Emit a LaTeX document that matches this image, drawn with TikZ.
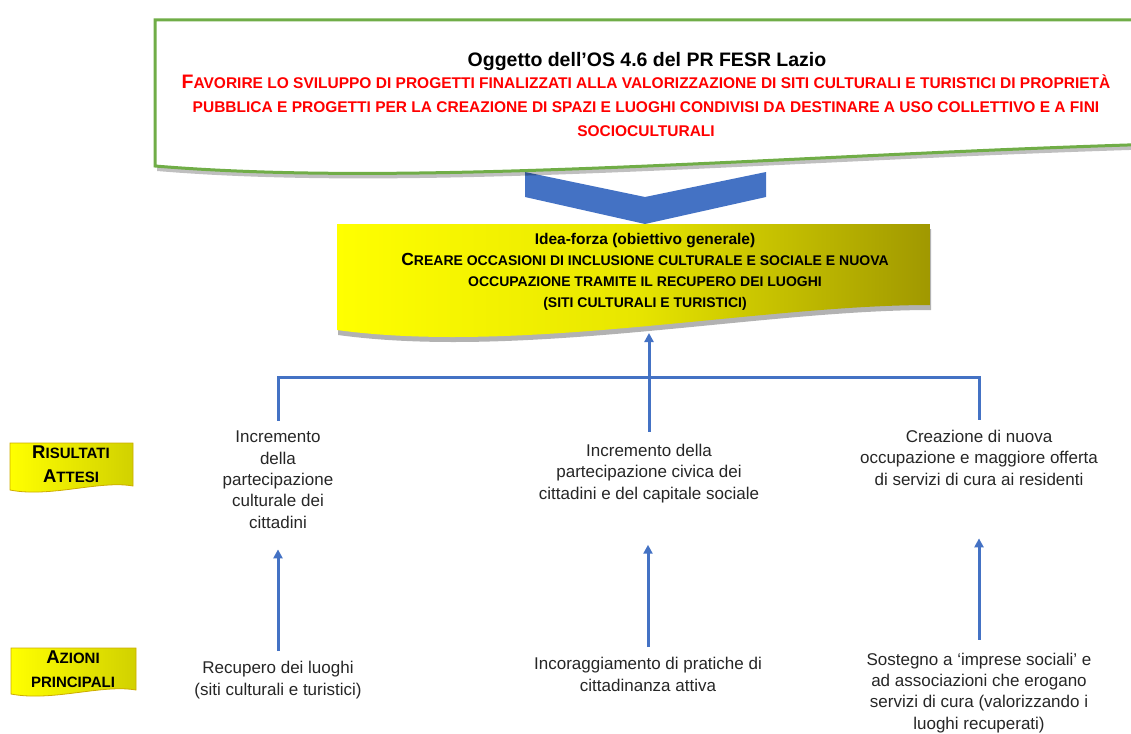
\documentclass[tikz,border=0pt]{standalone}
\usepackage{fontspec}
\setmainfont{Liberation Sans}
\usepackage{tikz}
\usetikzlibrary{arrows.meta}

\definecolor{osgreen}{RGB}{112,173,71}
\definecolor{flowblue}{RGB}{68,114,196}
\definecolor{olivedark}{RGB}{160,152,0}
\definecolor{olivemid}{RGB}{232,230,0}
\definecolor{tagedge}{RGB}{205,172,0}

% first letter of a small-caps run
\newcommand{\capinit}[2][19.5]{{\fontsize{#1}{24}\selectfont #2}}

\begin{document}
\begin{tikzpicture}[x=1pt, y=-1pt,
  body/.style={align=center, inner sep=0pt, anchor=base, text=black!85, font=\fontsize{17}{21.3}\selectfont},
  tag/.style={align=center, inner sep=0pt, anchor=base, font=\bfseries\fontsize{15}{24}\selectfont},
  link/.style={draw=flowblue, line width=3pt},
  flow/.style={link, -{Triangle[width=9pt,length=9pt]}}]
  \useasboundingbox (0,0) rectangle (1131,733);
  \clip (0,0) rectangle (1131,733);

  % big chevron between the two boxes
  \fill[flowblue] (525,172) -- (645,197) -- (766,172) -- (766,197) -- (645,224) -- (525,197) -- cycle;

  % box with the object of the OS
  \fill[black, opacity=0.25] (157,25) -- (1162,25) -- (1162,149) .. controls (780,160) and (420,193) .. (157,171) -- cycle;
  \draw[osgreen, line width=3pt, fill=white] (155,20) -- (1160,20) -- (1160,144) .. controls (780,155) and (420,188) .. (155,166) -- cycle;
  \node[inner sep=0pt, anchor=base, font=\bfseries\fontsize{19.5}{22}\selectfont] (ostitle) at (647,67) {Oggetto dell’OS 4.6 del PR FESR Lazio};
  \node[align=center, inner sep=0pt, anchor=base, text=red, font=\bfseries\fontsize{15.5}{24}\selectfont] (osdesc) at (646,136)
    {\capinit{F}AVORIRE LO SVILUPPO DI PROGETTI FINALIZZATI ALLA VALORIZZAZIONE DI SITI CULTURALI E TURISTICI DI PROPRIETÀ\\
     PUBBLICA E PROGETTI PER LA CREAZIONE DI SPAZI E LUOGHI CONDIVISI DA DESTINARE A USO COLLETTIVO E A FINI\\
     SOCIOCULTURALI};

  % idea-forza box
  \fill[black, opacity=0.3] (338,229) -- (931,229) -- (931,310) .. controls (761,310) and (521,360) .. (338,335) -- cycle;
  \shade[left color=yellow, right color=olivedark, middle color=olivemid] (337,224) -- (930,224) -- (930,305) .. controls (760,305) and (520,355) .. (337,330) -- cycle;
  \node[align=center, inner sep=0pt, anchor=base, font=\bfseries\fontsize{14}{21}\selectfont] (idea) at (645,307)
    {{\fontsize{15.5}{21}\selectfont Idea-forza (obiettivo generale)}\\
     \capinit[17.5]{C}REARE OCCASIONI DI INCLUSIONE CULTURALE E SOCIALE E NUOVA\\
     OCCUPAZIONE TRAMITE IL RECUPERO DEI LUOGHI\\
     (SITI CULTURALI E TURISTICI)};
  \coordinate (ideabot) at (649,333);
  \coordinate (hub) at (649,377);

  % row labels
  \shade[left color=yellow, right color=yellow!82!black, draw=tagedge, line width=0.8pt] (10,443) -- (133,443) -- (133,486) .. controls (100,480) and (50,498) .. (10,490) -- cycle;
  \node[tag] (tagres) at (71,482) {\capinit[18.5]{R}ISULTATI\\\capinit[18.5]{A}TTESI};
  \shade[left color=yellow, right color=yellow!82!black, draw=tagedge, line width=0.8pt] (11,648) -- (136,648) -- (136,690) .. controls (102,684) and (52,702) .. (11,694) -- cycle;
  \node[tag] (tagact) at (73,687) {\capinit[18.5]{A}ZIONI\\PRINCIPALI};

  % expected results
  \node[body] (res1) at (278,528) {Incremento\\della\\partecipazione\\culturale dei\\cittadini};
  \node[body] (res2) at (649,499) {Incremento della\\partecipazione civica dei\\cittadini e del capitale sociale};
  \node[body] (res3) at (979,485) {Creazione di nuova\\occupazione e maggiore offerta\\di servizi di cura ai residenti};

  % main actions
  \node[body] (act1) at (278,695) {Recupero dei luoghi\\(siti culturali e turistici)};
  \node[body] (act2) at (648,691) {Incoraggiamento di pratiche di\\cittadinanza attiva};
  \node[body] (act3) at (979,729) {Sostegno a ‘imprese sociali’ e\\ad associazioni che erogano\\servizi di cura (valorizzando i\\luoghi recuperati)};

  % connectors
  \draw[link] ([yshift=10pt]res1.north) |- (hub) -| ([yshift=10pt]res3.north);
  \draw[flow] ([yshift=12pt]res2.north) -- (ideabot);
  \draw[flow, shorten <=10pt, shorten >=21pt] (act1.north) -- (act1.north |- res1.south);
  \draw[flow, shorten <=10pt, shorten >=42pt] (act2.north) -- (act2.north |- res2.south);
  \draw[flow, shorten <=13pt, shorten >=53pt] (act3.north) -- (act3.north |- res3.south);
\end{tikzpicture}
\end{document}
